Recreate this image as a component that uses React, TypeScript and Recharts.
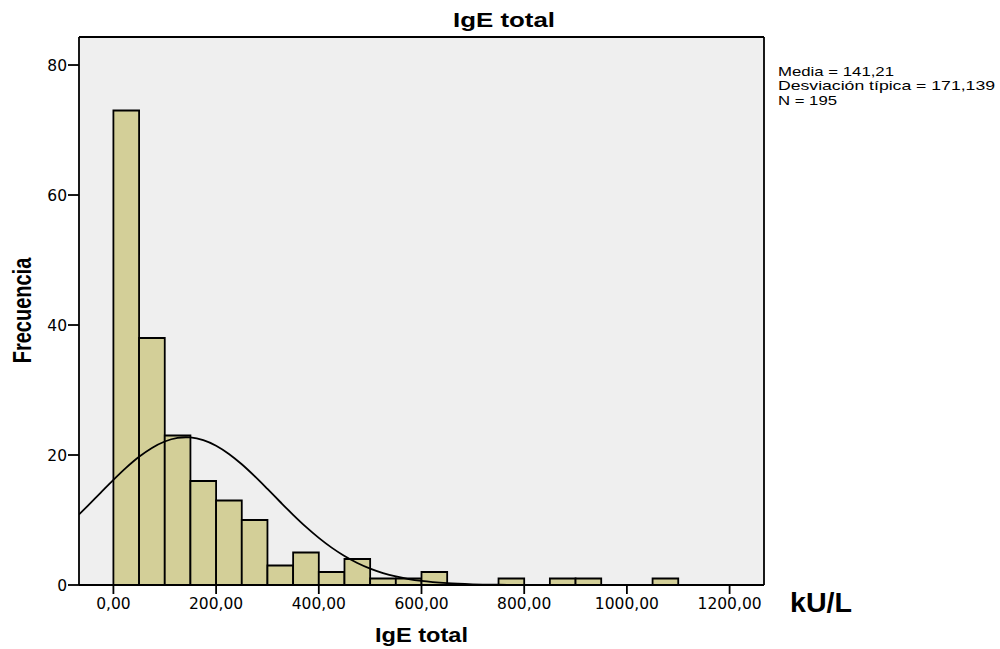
import React from 'react';
import {
  ComposedChart,
  Bar,
  Line,
  XAxis,
  YAxis,
  CartesianGrid,
  ReferenceLine,
} from 'recharts';

// Histogram bins (kU/L), width 50
const binLabels = [
  '0-50', '50-100', '100-150', '150-200', '200-250', '250-300', '300-350', '350-400',
  '400-450', '450-500', '500-550', '550-600', '600-650', '650-700', '700-750', '750-800',
  '800-850', '850-900', '900-950', '950-1000', '1000-1050', '1050-1100', '1100-1150',
  '1150-1200', '1200-1250',
];
const binCounts = [73, 38, 23, 16, 13, 10, 3, 5, 2, 4, 1, 1, 2, 0, 0, 1, 0, 1, 1, 0, 0, 1, 0, 0, 0];

// Normal curve (frequency scale)
const curveX = [-67, -50, -25, 0, 25, 50, 75, 100, 125, 141, 150, 175, 200, 225, 250, 275, 300, 325, 350, 375, 400, 425, 450, 475, 500, 525, 550, 575, 600, 650, 700, 750, 800, 850, 900, 1000, 1267];
const curveY = [10.84, 12.18, 14.18, 16.17, 18.05, 19.72, 21.09, 22.08, 22.63, 22.73, 22.7, 22.29, 21.43, 20.16, 18.57, 16.74, 14.78, 12.77, 10.8, 8.94, 7.25, 5.75, 4.46, 3.39, 2.52, 1.84, 1.31, 0.915, 0.625, 0.274, 0.11, 0.041, 0.014, 0.004, 0.001, 0, 0];

const xTicks = [0, 200, 400, 600, 800, 1000, 1200];
const xTickLabels = ['0,00', '200,00', '400,00', '600,00', '800,00', '1000,00', '1200,00'];
const yTicks = [0, 20, 40, 60, 80];

const titleText = 'IgE total';
const xLabelText = 'IgE total';
const yLabelText = 'Frecuencia';
const unitText = 'kU/L';
const statsLines = ['Media = 141,21', 'Desviación típica = 171,139', 'N = 195'];

const X_MIN = -67;
const X_MAX = 1267;
const Y_MAX = 84.31;

const histData = binLabels.map((b, i) => ({ bin: b, count: binCounts[i] }));
const curveData = curveX.map((x, i) => ({ x, y: curveY[i] }));

export default function App() {
  const W = 1000;
  const H = 649;
  const left = 79;
  const right = 764;
  const pxPerUnit = (right - left) / (X_MAX - X_MIN);
  const padLeft = (0 - X_MIN) * pxPerUnit;
  const padRight = (X_MAX - 1250) * pxPerUnit;
  const barW = 50 * pxPerUnit;

  return (
    <div style={{ position: 'absolute', left: 0, top: 0, width: W, height: H, background: '#fff' }}>
      <ComposedChart
        width={W}
        height={H}
        data={histData}
        margin={{ top: 37, right: W - right, bottom: 0, left: 0 }}
        barCategoryGap={0}
        barGap={0}
      >
        <CartesianGrid horizontal={false} vertical={false} fill="#efefef" stroke="none" xAxisId="num" />
        <XAxis xAxisId="cat" dataKey="bin" type="category" hide height={0} padding={{ left: padLeft, right: padRight }} />
        <XAxis
          xAxisId="num"
          dataKey="x"
          type="number"
          domain={[X_MIN, X_MAX]}
          allowDataOverflow
          ticks={xTicks}
          interval={0}
          tickFormatter={(v: number) => xTickLabels[xTicks.indexOf(v)] ?? String(v)}
          height={64}
          tickSize={9}
          tickMargin={4}
          axisLine={{ stroke: '#000', strokeWidth: 1.8 }}
          tickLine={{ stroke: '#000', strokeWidth: 1.8 }}
          tick={{ fill: '#000', fontSize: 15.5, fontFamily: 'DejaVu Sans' }}
        />
        <YAxis
          type="number"
          domain={[0, Y_MAX]}
          allowDataOverflow
          ticks={yTicks}
          interval={0}
          width={79}
          tickSize={11}
          tickMargin={1}
          axisLine={{ stroke: '#000', strokeWidth: 1.8 }}
          tickLine={{ stroke: '#000', strokeWidth: 1.8 }}
          tick={{ fill: '#000', fontSize: 15.5, fontFamily: 'DejaVu Sans' }}
        />
        <Bar
          xAxisId="cat"
          dataKey="count"
          fill="#d3cf98"
          stroke="#000"
          strokeWidth={1.8}
          barSize={barW}
          isAnimationActive={false}
        />
        <Line
          xAxisId="num"
          data={curveData}
          dataKey="y"
          type="monotone"
          stroke="#000"
          strokeWidth={1.8}
          dot={false}
          activeDot={false}
          isAnimationActive={false}
        />
        <ReferenceLine xAxisId="num" y={Y_MAX} stroke="#000" strokeWidth={1.8} />
        <ReferenceLine xAxisId="num" x={X_MAX} stroke="#000" strokeWidth={1.8} />
      </ComposedChart>
      <svg
        width={W}
        height={H}
        style={{ position: 'absolute', left: 0, top: 0, pointerEvents: 'none' }}
      >
        <text x={453} y={27} fontFamily="Liberation Sans" fontWeight="bold" fontSize={21} textLength={102} lengthAdjust="spacingAndGlyphs" fill="#000">
          {titleText}
        </text>
        <text x={375} y={642} fontFamily="Liberation Sans" fontWeight="bold" fontSize={19.5} textLength={93} lengthAdjust="spacingAndGlyphs" fill="#000">
          {xLabelText}
        </text>
        <text x={790} y={612} fontFamily="Liberation Sans" fontWeight="bold" fontSize={28} textLength={62} lengthAdjust="spacingAndGlyphs" fill="#000">
          {unitText}
        </text>
        <g transform="translate(31,310.5) scale(1.3,1) rotate(-90)">
          <text x={0} y={0} textAnchor="middle" fontFamily="Liberation Sans" fontWeight="bold" fontSize={20} fill="#000">
            {yLabelText}
          </text>
        </g>
        {statsLines.map((s, i) => (
          <text
            key={s}
            x={778}
            y={76 + i * 14.3}
            fontFamily="Liberation Sans"
            fontSize={13.5}
            textLength={[116, 217, 59][i]}
            lengthAdjust="spacingAndGlyphs"
            fill="#000"
          >
            {s}
          </text>
        ))}
      </svg>
    </div>
  );
}
